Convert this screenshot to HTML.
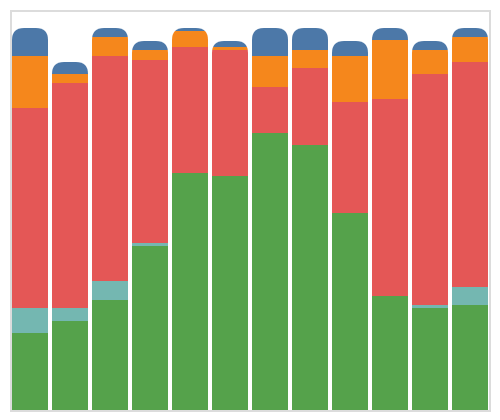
<!DOCTYPE html>
<html><head><meta charset="utf-8"><style>
html,body{margin:0;padding:0;background:#fff;width:500px;height:420px;overflow:hidden;font-family:"Liberation Sans",sans-serif}
</style></head><body>
<svg id="chart" width="500" height="420" viewBox="0 0 500 420">
<rect x="11" y="11" width="479" height="400" fill="none" stroke="#dcdcdc" stroke-width="2"/>
<g id="bars"></g>
</svg>
<script>
const categories = ["1","2","3","4","5","6","7","8","9","10","11","12"];
const seriesNames = ["green","teal","red","orange","blue"];
const seriesColors = ["#55a24b","#74b7b1","#e45756","#f5871c","#4c78a8"];
const green  = [77, 89, 110, 164, 237, 234, 277, 265, 197, 114, 102, 105];
const teal   = [25, 13, 19, 3, 0, 0, 0, 0, 0, 0, 3, 18];
const red    = [200, 225, 225, 183, 126, 126, 46, 77, 111, 197, 231, 225];
const orange = [52, 9, 19, 10, 16, 3, 31, 18, 46, 59, 24, 25];
const blue   = [28, 12, 9, 9, 3, 6, 28, 22, 15, 12, 9, 9];
const series = [green, teal, red, orange, blue];

const NS = "http://www.w3.org/2000/svg";
const x0 = 12, step = 40, bw = 36, y0 = 410;
const yMax = 382; // value at plot top (y=28)
const yScale = v => y0 - v * (382 / yMax);
const xScale = i => x0 + i * step;
const g = document.getElementById("bars");
const defs = document.createElementNS(NS, "defs");
document.getElementById("chart").appendChild(defs);
const r = 12;
categories.forEach((c, i) => {
  const total = series.reduce((s, a) => s + a[i], 0);
  const x = xScale(i), top = yScale(total);
  const cp = document.createElementNS(NS, "clipPath");
  cp.setAttribute("id", "clip" + i);
  const p = document.createElementNS(NS, "path");
  p.setAttribute("d", `M${x},${y0} V${top + r} Q${x},${top} ${x + r},${top} H${x + bw - r} Q${x + bw},${top} ${x + bw},${top + r} V${y0} Z`);
  cp.appendChild(p);
  defs.appendChild(cp);
  const bg = document.createElementNS(NS, "g");
  bg.setAttribute("clip-path", `url(#clip${i})`);
  
  
  let cum = 0;
  series.forEach((arr, s) => {
    const v = arr[i];
    if (v <= 0) return;
    const rect = document.createElementNS(NS, "rect");
    rect.setAttribute("x", x);
    rect.setAttribute("width", bw);
    rect.setAttribute("y", yScale(cum + v));
    rect.setAttribute("height", yScale(cum) - yScale(cum + v));
    rect.setAttribute("fill", seriesColors[s]);
    
    
    bg.appendChild(rect);
    cum += v;
  });
  g.appendChild(bg);
});
</script>
</body></html>
